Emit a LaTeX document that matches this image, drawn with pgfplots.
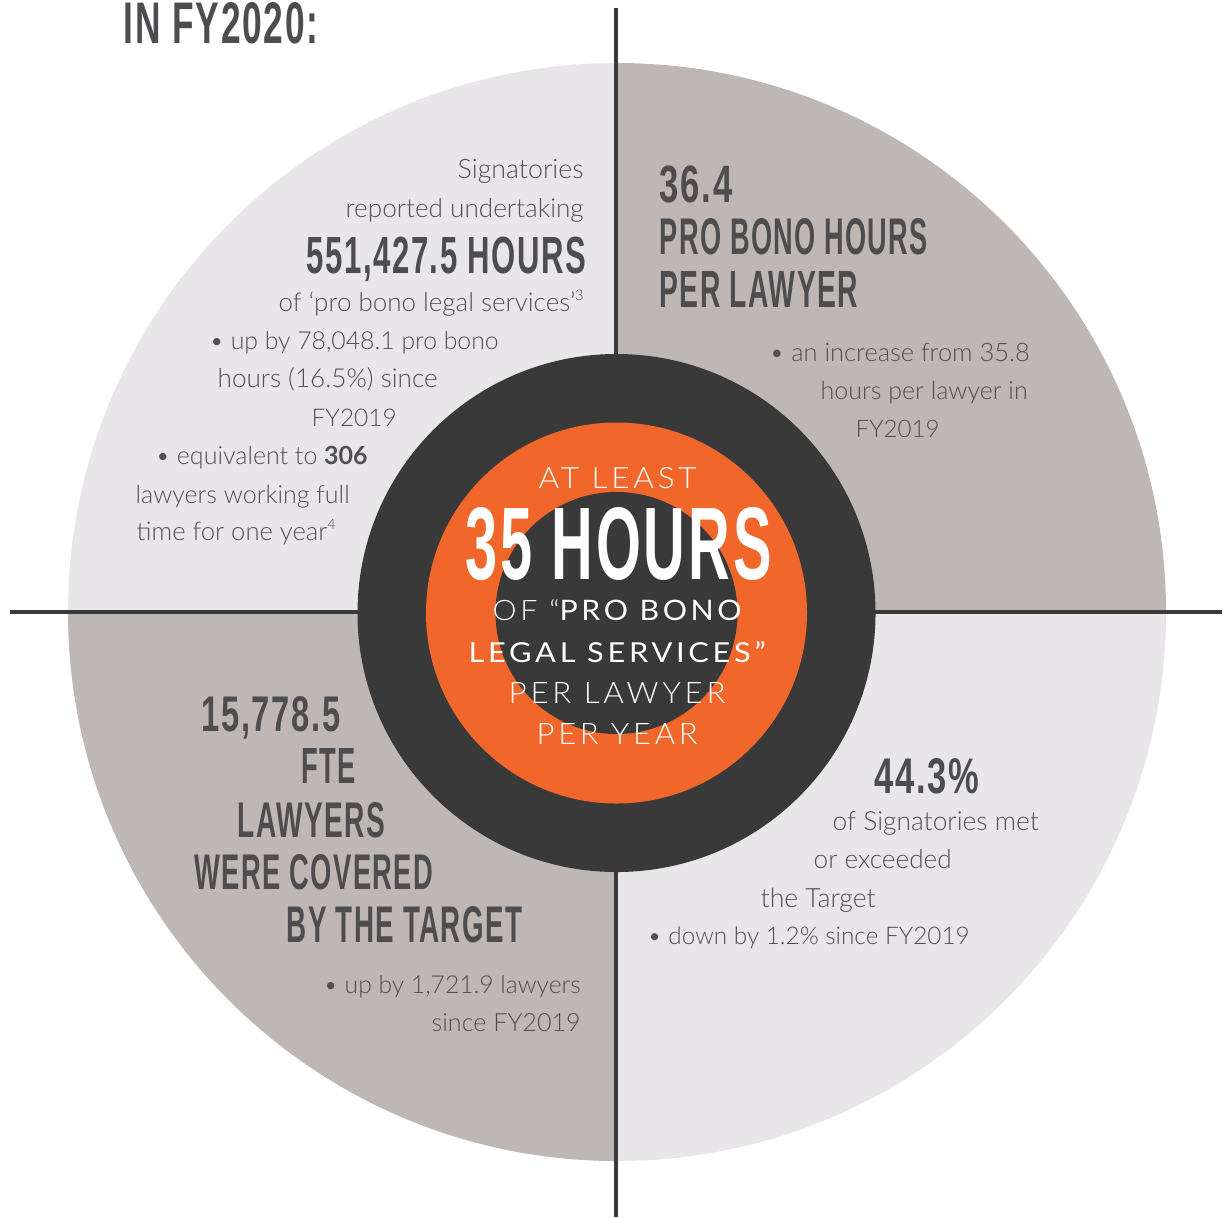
\documentclass[border=0pt]{standalone}
\usepackage{pgfplots}
\pgfplotsset{compat=1.18}
\usepackage{graphicx}
\usepackage{fontspec}
\setmainfont{Lato}
\newfontfamily\lightfont{Lato Light}[BoldFont={Lato Bold}]
\newfontfamily\headfont{Liberation Sans}[LetterSpace=5]
\newfontfamily\ctrlight{Lato Light}[LetterSpace=12]
\newfontfamily\ctrreg{Lato}[LetterSpace=12]
\definecolor{lightq}{HTML}{E9E6E9}
\definecolor{darkq}{HTML}{BEB7B3}
\definecolor{ringcol}{HTML}{393939}
\definecolor{orangecol}{HTML}{F1672B}
\definecolor{linecol}{HTML}{3A3A3A}
\definecolor{headcol}{HTML}{4D4D4F}
\definecolor{bodycol}{HTML}{505052}
\newlength\px \setlength\px{0.3pt}
\newcommand\hd[5]{\node[anchor=base west,inner sep=0pt,text=headcol] at (axis cs:#1,-#2) {\resizebox{#3\px}{#4\px}{\headfont\bfseries #5\kern-0.05em}};}
\newcommand\bt[4]{\node[anchor=base west,inner sep=0pt,text=bodycol] at (axis cs:#1,-#2) {\resizebox{#3\px}{!}{\lightfont\fontsize{8}{9}\selectfont #4}};}
\newcommand\ct[5]{\node[anchor=base west,inner sep=0pt,text=white] at (axis cs:#1,-#2) {\resizebox{#3\px}{#4\px}{\fontsize{9}{10}\selectfont #5}};}
\newcommand\supr[1]{\raisebox{0.85ex}{\fontsize{4.5}{5}\selectfont #1}}
\begin{document}
\begin{tikzpicture}
\begin{axis}[width=368.1pt,height=365.1pt,scale only axis,
  xmin=0,xmax=1227,ymin=-1217,ymax=0,hide axis,clip=false]
% quadrants
\fill[lightq] (axis cs:617,-612) -- (axis cs:617,-63) arc[start angle=90,end angle=180,radius=549\px] -- cycle;
\fill[darkq] (axis cs:617,-612) -- (axis cs:1166,-612) arc[start angle=0,end angle=90,radius=549\px] -- cycle;
\fill[darkq] (axis cs:617,-612) -- (axis cs:68,-612) arc[start angle=180,end angle=270,radius=549\px] -- cycle;
\fill[lightq] (axis cs:617,-612) -- (axis cs:617,-1161) arc[start angle=270,end angle=360,radius=549\px] -- cycle;
% cross lines
\draw[linecol,line width=4\px] (axis cs:616,-8) -- (axis cs:616,-1217);
\draw[linecol,line width=4\px] (axis cs:10,-612) -- (axis cs:1222,-612);
% rings
\fill[ringcol] (axis cs:616.5,-613) circle[radius=259\px];
\fill[orangecol] (axis cs:616.5,-613) circle[radius=190.5\px];
\fill[ringcol] (axis cs:616.5,-613) circle[radius=121\px];
% title
\hd{123}{44}{193}{41}{IN FY2020:}
% top-left
\bt{457}{179}{126}{Signatories}
\bt{345}{217}{238}{reported undertaking}
\hd{306}{273}{278}{36.5}{551,427.5 HOURS}
\bt{278}{311}{305}{of ‘pro bono legal services’\supr{3}}
\bt{209}{349}{289}{•\ up by 78,048.1 pro bono}
\bt{217}{387}{220}{hours (16.5\%) since}
\bt{311}{426}{85}{FY2019}
\bt{155}{464}{212}{•\ equivalent to {\bfseries 306}}
\bt{135}{503}{214}{lawyers working full}
\bt{136}{540}{199}{time for one year\supr{4}}
% top-right
\hd{659}{202}{71}{36.7}{36.4}
\hd{659}{254}{267}{36}{PRO BONO HOURS}
\hd{659}{307}{197}{36}{PER LAWYER}
\bt{769}{361}{260}{•\ an increase from 35.8}
\bt{820}{399}{207}{hours per lawyer in}
\bt{855}{437}{84}{FY2019}
% bottom-left
\hd{201}{731}{137}{35}{15,778.5}
\hd{301}{783}{53}{35}{FTE}
\hd{237}{837}{146}{35}{LAWYERS}
\hd{194}{889}{237}{35}{WERE COVERED}
\hd{286}{942}{234}{36}{BY THE TARGET}
\bt{323}{993}{257}{•\ up by 1,721.9 lawyers}
\bt{431}{1031}{149}{since FY2019}
% bottom-right
\hd{874}{793}{103}{35}{44.3\%}
\bt{832}{830}{206}{of Signatories met}
\bt{813}{868}{138}{or exceeded}
\bt{760}{907}{115}{the Target}
\bt{647}{944}{322}{•\ down by 1.2\% since FY2019}
% centre
\ct{538}{488}{158}{21}{\ctrlight AT LEAST}
\node[anchor=base west,inner sep=0pt,text=white] at (axis cs:465,-579) {\resizebox{303\px}{72\px}{\headfont\bfseries 35 HOURS\kern-0.05em}};
\ct{492}{620}{249}{21}{\ctrlight OF “\ctrreg PRO BONO}
\ct{468}{662}{297}{21}{\ctrreg LEGAL SERVICES”}
\ct{508}{703}{217}{21}{\ctrlight PER LAWYER}
\ct{536}{744}{161}{21}{\ctrlight PER YEAR}
\end{axis}
\pgfresetboundingbox
\path (0,0) rectangle (368.1pt,365.1pt);
\end{tikzpicture}
\end{document}
